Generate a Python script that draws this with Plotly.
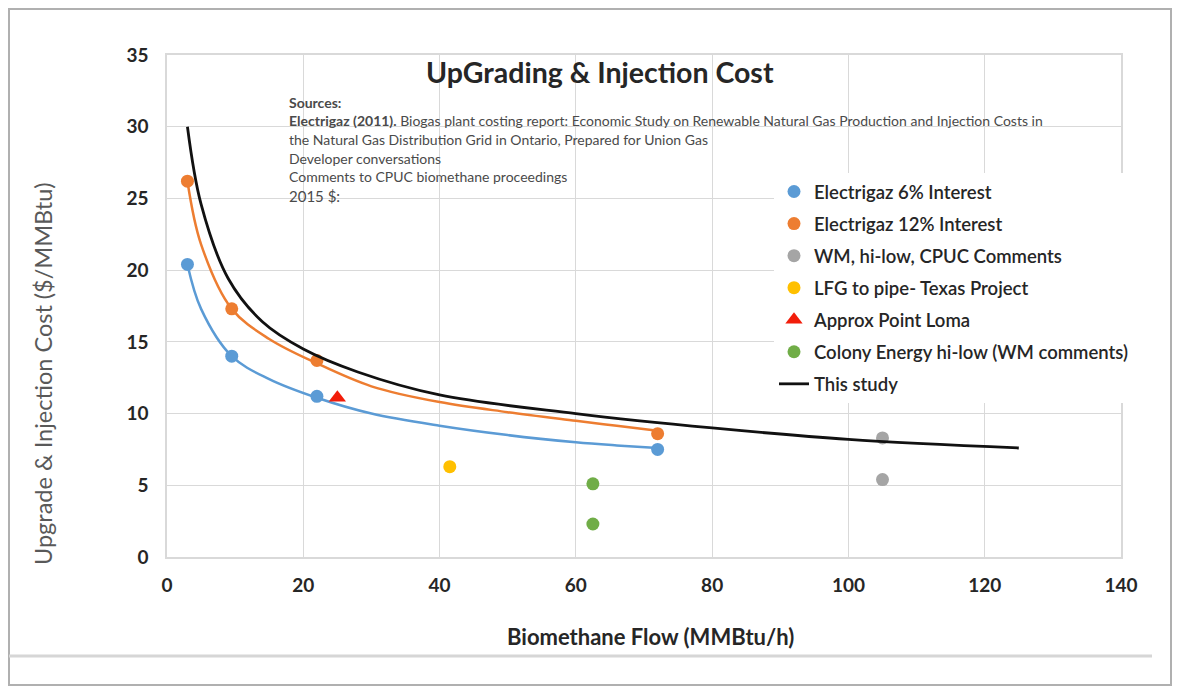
import plotly.graph_objects as go

# ---- data ----
e6_x = [3, 9.5, 22, 72]
e6_y = [20.4, 14.0, 11.2, 7.5]
e12_x = [3, 9.5, 22, 72]
e12_y = [26.2, 17.3, 13.7, 8.6]

e6_curve_x = [3, 5, 9.5, 15, 22, 30, 40, 50, 60, 66, 72]
e6_curve_y = [20.4, 17.3, 14.0, 12.4, 11.1, 10.0, 9.15, 8.5, 8.0, 7.78, 7.6]
e12_curve_x = [3, 5, 9.5, 15, 22, 30, 40, 50, 60, 66, 72]
e12_curve_y = [26.2, 21.8, 17.3, 15.2, 13.5, 11.9, 10.8, 10.1, 9.5, 9.15, 8.8]

wm_x = [105, 105]
wm_y = [8.3, 5.4]
lfg_x = [41.5]
lfg_y = [6.3]
loma_x = [25]
loma_y = [11.1]
colony_x = [62.5, 62.5]
colony_y = [5.1, 2.3]

study_x = [3, 5, 9, 14, 20, 28, 40, 60, 80, 100, 125]
study_y = [30.0, 24.6, 19.4, 16.4, 14.5, 12.9, 11.3, 10.0, 9.0, 8.2, 7.6]

x_ticks = [0, 20, 40, 60, 80, 100, 120, 140]
y_ticks = [0, 5, 10, 15, 20, 25, 30, 35]

title_text = "UpGrading &amp; Injection Cost"
x_title = "Biomethane Flow (MMBtu/h)"
y_title = "Upgrade &amp; Injection Cost ($/MMBtu)"
source_lines = [
    "<b>Sources:</b>",
    "<b>Electrigaz (2011).</b> Biogas plant costing report: Economic Study on Renewable Natural Gas Production and Injection Costs in",
    "the Natural Gas Distribution Grid in Ontario, Prepared for Union Gas",
    "Developer conversations",
    "Comments to CPUC biomethane proceedings",
]
dollar_line = "2015 $:"

BLUE = "#5B9BD5"
ORANGE = "#ED7D31"
GRAY = "#A5A5A5"
YELLOW = "#FFC000"
RED = "#F21D0A"
GREEN = "#70AD47"
FONT = "Lato"

fig = go.Figure()

# curves (no legend)
fig.add_trace(go.Scatter(x=e6_curve_x, y=e6_curve_y, mode="lines",
                         line=dict(color=BLUE, width=2.5, shape="spline"),
                         showlegend=False, hoverinfo="skip"))
fig.add_trace(go.Scatter(x=e12_curve_x, y=e12_curve_y, mode="lines",
                         line=dict(color=ORANGE, width=2.5, shape="spline"),
                         showlegend=False, hoverinfo="skip"))

msize = 13
fig.add_trace(go.Scatter(x=e6_x, y=e6_y, mode="markers", name="Electrigaz 6% Interest",
                         marker=dict(color=BLUE, size=msize), legendgroup="a"))
fig.add_trace(go.Scatter(x=e12_x, y=e12_y, mode="markers", name="Electrigaz 12% Interest",
                         marker=dict(color=ORANGE, size=msize), legendgroup="b"))
fig.add_trace(go.Scatter(x=wm_x, y=wm_y, mode="markers", name="WM, hi-low, CPUC Comments",
                         marker=dict(color=GRAY, size=msize), legendgroup="c"))
fig.add_trace(go.Scatter(x=lfg_x, y=lfg_y, mode="markers", name="LFG to pipe- Texas Project",
                         marker=dict(color=YELLOW, size=msize), legendgroup="d"))
fig.add_trace(go.Scatter(x=loma_x, y=loma_y, mode="markers", name="Approx Point Loma",
                         marker=dict(color=RED, size=15, symbol="triangle-up"), legendgroup="e"))
fig.add_trace(go.Scatter(x=colony_x, y=colony_y, mode="markers", name="Colony Energy hi-low (WM comments)",
                         marker=dict(color=GREEN, size=msize), legendgroup="f"))
fig.add_trace(go.Scatter(x=study_x, y=study_y, mode="lines", name="This study",
                         line=dict(color="#111111", width=2.8, shape="spline"), legendgroup="g"))

# page has an 8px body margin; figure is placed at (8,8)
OFF = 8
W, H = 1164, 678
L, T = 159, 47          # plot area page x 167..1121, page y 55..557
pw, ph = 954, 502
R, B = W - L - pw, H - T - ph


def fx(page_x):
    return (page_x - OFF - L) / pw


def fy(page_y):
    return (H - B - (page_y - OFF)) / ph


annotations = [
    dict(text=f"<b>{title_text}</b>", x=fx(600), y=fy(72), xref="paper", yref="paper",
         showarrow=False, font=dict(family=FONT, size=28.5, color="#262626"),
         xanchor="center", yanchor="middle"),
    dict(text=f"<b>{x_title}</b>", x=fx(650), y=fy(636), xref="paper", yref="paper",
         showarrow=False, font=dict(family=FONT, size=22, color="#262626"),
         xanchor="center", yanchor="middle"),
    dict(text=y_title, x=fx(43), y=fy(374), xref="paper", yref="paper",
         showarrow=False, textangle=-90, font=dict(family=FONT, size=23.5, color="#595959"),
         xanchor="center", yanchor="middle"),
]
src_y = [102, 120, 139, 158, 176]
for line, py in zip(source_lines, src_y):
    annotations.append(dict(text=line, x=fx(287), y=fy(py), xref="paper", yref="paper",
                            showarrow=False, xanchor="left", yanchor="middle",
                            font=dict(family=FONT, size=14, color="#4a4a4a")))
annotations.append(dict(text=dollar_line, x=fx(287), y=fy(196), xref="paper", yref="paper",
                        showarrow=False, xanchor="left", yanchor="middle",
                        font=dict(family=FONT, size=15, color="#4a4a4a")))

shapes = [
    # outer picture frame
    dict(type="rect", xref="paper", yref="paper",
         x0=fx(9), x1=fx(1171), y0=fy(685), y1=fy(9),
         line=dict(color="#b0b0b0", width=2), layer="below"),
    # separator line near bottom
    dict(type="line", xref="paper", yref="paper",
         x0=fx(9), x1=fx(1152), y0=fy(656), y1=fy(656),
         line=dict(color="#d6d6d6", width=3), layer="below"),
]

fig.update_layout(
    width=W, height=H,
    margin=dict(l=L, r=R, t=T, b=B, autoexpand=False),
    paper_bgcolor="white", plot_bgcolor="white",
    font=dict(family=FONT, color="#262626"),
    annotations=annotations,
    shapes=shapes,
    legend=dict(x=fx(774), y=fy(173), xanchor="left", yanchor="top",
                bgcolor="white", font=dict(family=FONT, size=18.5, color="#262626", weight=600),
                tracegroupgap=5, itemwidth=30),
    xaxis=dict(range=[0, 140], tickvals=x_ticks, showgrid=True, gridcolor="#d9d9d9",
               gridwidth=1.2, zeroline=False, showline=True, linecolor="#d9d9d9",
               linewidth=1.5, mirror=True, ticks="", ticklabelstandoff=10,
               tickfont=dict(family=FONT, size=19, color="#262626", weight="bold")),
    yaxis=dict(range=[0, 35], tickvals=y_ticks, showgrid=True, gridcolor="#d9d9d9",
               gridwidth=1.2, zeroline=False, showline=True, linecolor="#d9d9d9",
               linewidth=1.5, mirror=True, ticks="", ticklabelstandoff=13,
               tickfont=dict(family=FONT, size=19, color="#262626", weight="bold")),
)

fig.write_html("out.html")
